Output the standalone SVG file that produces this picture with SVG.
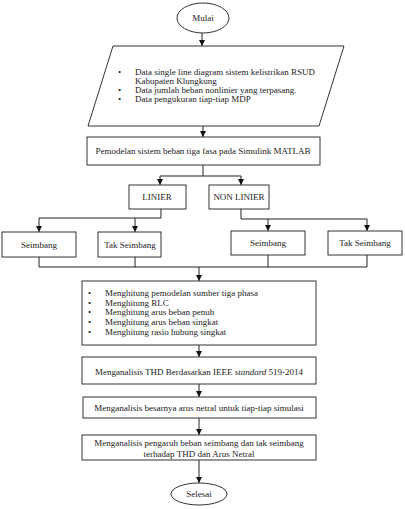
<svg xmlns="http://www.w3.org/2000/svg" width="405" height="509" viewBox="0 0 405 509">
<style>
.s{fill:#fff;stroke:#333;stroke-width:1}
.c{fill:none;stroke:#222;stroke-width:1}
text{font-family:"Liberation Serif","Times New Roman",serif;font-size:9px;fill:#222}
.m{text-anchor:middle}
</style>
<defs>
<marker id="a" markerUnits="userSpaceOnUse" markerWidth="8" markerHeight="8" refX="6" refY="3" orient="auto">
<path d="M0,0 L6,3 L0,6 Z" fill="#111"/>
</marker>
</defs>
<rect width="405" height="509" fill="#fff"/>
<g id="connectors">
<path class="c" d="M202,33 V46" marker-end="url(#a)"/>
<path class="c" d="M203,126 V137" marker-end="url(#a)"/>
<path class="c" d="M203,165 V176 H160 V185" marker-end="url(#a)"/>
<path class="c" d="M203,176 H241 V185" marker-end="url(#a)"/>
<path class="c" d="M161,209 V218 H39 V232" marker-end="url(#a)"/>
<path class="c" d="M135,218 V232" marker-end="url(#a)"/>
<path class="c" d="M241,209 V219 H367 V231" marker-end="url(#a)"/>
<path class="c" d="M268,219 V231" marker-end="url(#a)"/>
<path class="c" d="M39,257 V267 H367 V255"/>
<path class="c" d="M135,257 V267 M268,255 V267"/>
<path class="c" d="M199,267 V281" marker-end="url(#a)"/>
<path class="c" d="M199,345 V357" marker-end="url(#a)"/>
<path class="c" d="M199,384 V397" marker-end="url(#a)"/>
<path class="c" d="M199,418 V435" marker-end="url(#a)"/>
<path class="c" d="M199,460 V483" marker-end="url(#a)"/>
</g>
<g id="mulai">
<ellipse class="s" cx="203" cy="18" rx="26" ry="15"/>
<text class="m" x="203" y="21" font-size="8">Mulai</text>
</g>
<g id="data">
<polygon class="s" points="113,46 344,46 319,126 88,126"/>
<text x="118" y="75">•</text><text x="135" y="75">Data single line diagram sistem kelistrikan RSUD</text>
<text x="135" y="84">Kabupaten Klungkung</text>
<text x="118" y="93">•</text><text x="135" y="93">Data jumlah beban nonlinier yang terpasang.</text>
<text x="118" y="102">•</text><text x="135" y="102">Data pengukuran tiap-tiap MDP</text>
</g>
<g id="pemodelan">
<rect class="s" x="87" y="137" width="233" height="28"/>
<text class="m" x="203" y="154">Pemodelan sistem beban tiga fasa pada Simulink MATLAB</text>
</g>
<g id="linier">
<rect class="s" x="129" y="185" width="57" height="24"/>
<text class="m" x="157" y="200">LINIER</text>
</g>
<g id="nonlinier">
<rect class="s" x="209" y="185" width="60" height="24"/>
<text class="m" x="239" y="200">NON LINIER</text>
</g>
<g id="seimbang1">
<rect class="s" x="2" y="232" width="74" height="25"/>
<text class="m" x="39" y="248">Seimbang</text>
</g>
<g id="takseimbang1">
<rect class="s" x="98" y="232" width="63" height="25"/>
<text class="m" x="130" y="248">Tak Seimbang</text>
</g>
<g id="seimbang2">
<rect class="s" x="231" y="231" width="74" height="24"/>
<text class="m" x="268" y="246">Seimbang</text>
</g>
<g id="takseimbang2">
<rect class="s" x="328" y="231" width="74" height="24"/>
<text class="m" x="365" y="246">Tak Seimbang</text>
</g>
<g id="menghitung">
<rect class="s" x="82" y="281" width="234" height="64"/>
<text x="88" y="296">•</text><text x="105" y="296">Menghitung pemodelan sumber tiga phasa</text>
<text x="88" y="306">•</text><text x="105" y="306">Menghitung RLC</text>
<text x="88" y="315">•</text><text x="105" y="315">Menghitung arus beban penuh</text>
<text x="88" y="325">•</text><text x="105" y="325">Menghitung arus beban singkat</text>
<text x="88" y="335">•</text><text x="105" y="335">Menghitung rasio hubung singkat</text>
</g>
<g id="thd">
<rect class="s" x="82" y="357" width="234" height="27"/>
<text class="m" x="199" y="375">Menganalisis THD Berdasarkan IEEE <tspan font-style="italic">standard</tspan> 519-2014</text>
</g>
<g id="netral">
<rect class="s" x="83" y="397" width="233" height="21"/>
<text class="m" x="199" y="411">Menganalisis besarnya arus netral untuk tiap-tiap simulasi</text>
</g>
<g id="pengaruh">
<rect class="s" x="82" y="435" width="234" height="25"/>
<text class="m" x="199" y="446">Menganalisis pengaruh beban seimbang dan tak seimbang</text>
<text class="m" x="199" y="457">terhadap THD dan Arus Netral</text>
</g>
<g id="selesai">
<ellipse class="s" cx="199" cy="494" rx="28" ry="11"/>
<text class="m" x="199" y="497">Selesai</text>
</g>
</svg>
